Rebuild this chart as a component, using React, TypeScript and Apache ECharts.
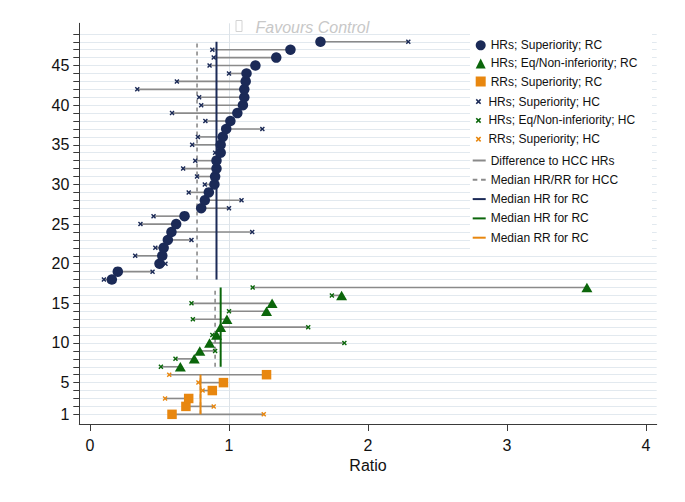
import React, { useEffect, useRef } from 'react';
import * as echarts from 'echarts';

// ---- Data (ratios; rows counted bottom to top) ----
// RRs, superiority trials: randomised control (RC) vs historical control (HC)
const rrSupRC = [0.59, 0.69, 0.71, 0.88, 0.96, 1.27];
const rrSupHC = [1.25, 0.89, 0.54, 0.81, 0.78, 0.57];
// HRs, equivalence / non-inferiority trials
const hrEqRC = [0.65, 0.75, 0.79, 0.86, 0.91, 0.94, 0.985, 1.27, 1.31, 1.81, 3.575];
const hrEqHC = [0.51, 0.615, 0.90, 1.83, 0.88, 1.57, 0.74, 1.0, 0.73, 1.74, 1.17];
// HRs, superiority trials
const hrSupRC = [
  0.157, 0.2, 0.5, 0.52, 0.53, 0.56, 0.586, 0.62, 0.68, 0.8, 0.826, 0.855, 0.895, 0.9, 0.91, 0.91,
  0.94, 0.94, 0.955, 0.98, 1.01, 1.06, 1.1, 1.11, 1.11, 1.12, 1.126, 1.19, 1.34, 1.442, 1.658,
];
const hrSupHC = [
  0.1, 0.45, 0.543, 0.325, 0.47, 0.73, 1.167, 0.363, 0.457, 1.0, 1.09, 0.71, 0.826, 0.77, 0.67, 0.757,
  0.9, 0.735, 0.776, 1.24, 0.83, 0.59, 0.8, 0.785, 0.34, 0.625, 1.0, 0.86, 0.89, 0.88, 2.29,
];

const xTicks = [0, 1, 2, 3, 4];
const yTickRows = Array.from({ length: 49 }, (_, i) => i + 1);
const yLabelRows = [1, 5, 10, 15, 20, 25, 30, 35, 40, 45];

const NAVY = '#1b2a57';
const GREEN = '#0b660b';
const ORANGE = '#e8870f';
const GREY = '#8a8a8a';
const FONT = '"Liberation Sans", Arial, Helvetica, sans-serif';

const median = (a: number[]) => {
  const s = [...a].sort((x, y) => x - y);
  const n = s.length;
  return n % 2 ? s[(n - 1) / 2] : (s[n / 2 - 1] + s[n / 2]) / 2;
};

// groups stacked bottom-to-top
const orangeStart = 1;
const greenStart = orangeStart + rrSupRC.length;
const blueStart = greenStart + hrEqRC.length;

const toPts = (vals: number[], start: number) => vals.map((v, i) => [v, start + i]);

const CROSS = 'path://M0,2L2,0L5,3L8,0L10,2L7,5L10,8L8,10L5,7L2,10L0,8L3,5Z';
const DASH = 'path://M0,0H5V2H0ZM9,0H14V2H9Z';
const SOLID = 'path://M0,0H14V2H0Z';

const labelMap: Record<string, string> = {
  medRCnavy: 'Median HR for RC',
  medRCgreen: 'Median HR for RC',
  medRCorange: 'Median RR for RC',
};

export default function App() {
  const ref = useRef<HTMLDivElement>(null);
  useEffect(() => {
    if (!ref.current) return;
    const chart = echarts.init(ref.current, null, { renderer: 'svg' });

    const diffData = [
      ...hrSupRC.map((v, i) => [hrSupHC[i], v, blueStart + i]),
      ...hrEqRC.map((v, i) => [hrEqHC[i], v, greenStart + i]),
      ...rrSupRC.map((v, i) => [rrSupHC[i], v, orangeStart + i]),
    ];
    const groups = [
      { rc: hrSupRC, hc: hrSupHC, start: blueStart },
      { rc: hrEqRC, hc: hrEqHC, start: greenStart },
      { rc: rrSupRC, hc: rrSupHC, start: orangeStart },
    ];
    const hccMedData = groups.map((g) => [median(g.hc), g.start, g.start + g.rc.length - 1]);
    const medSeries = (name: string, g: any, color: string) => ({
      type: 'custom',
      name,
      data: [[median(g.rc), g.start, g.start + g.rc.length - 1]],
      encode: { x: 0, y: [1, 2] },
      itemStyle: { color },
      z: 3,
      silent: true,
      renderItem: (_p: any, api: any) => {
        const a = api.coord([api.value(0), api.value(1)]);
        const b = api.coord([api.value(0), api.value(2)]);
        return {
          type: 'line',
          shape: { x1: a[0], y1: a[1], x2: b[0], y2: b[1] },
          style: { stroke: color, lineWidth: 2 },
        };
      },
    });

    const legendText = { fontSize: 12, color: '#111', fontFamily: FONT, lineHeight: 14 };

    chart.setOption({
      animation: false,
      backgroundColor: '#ffffff',
      textStyle: { fontFamily: FONT },
      grid: { left: 79.3, right: 28.3, top: 23.3, bottom: 78, containLabel: false, outerBoundsMode: 'none' },
      xAxis: {
        type: 'value',
        min: -0.077,
        max: 4.077,
        name: 'Ratio',
        nameLocation: 'middle',
        nameGap: 30,
        nameTextStyle: { fontSize: 16, color: '#111', fontFamily: FONT },
        axisLine: { show: true, onZero: false, lineStyle: { color: '#3a3a3a', width: 1 } },
        axisTick: { show: true, length: 7, customValues: xTicks, lineStyle: { color: '#3a3a3a' } },
        axisLabel: { customValues: xTicks, fontSize: 16, color: '#111', margin: 13, fontFamily: FONT },
        splitLine: { show: false },
      },
      yAxis: {
        type: 'value',
        min: -0.22,
        max: 50.33,
        axisLine: { show: true, onZero: false, lineStyle: { color: '#3a3a3a', width: 1 } },
        axisTick: { show: true, length: 6, customValues: yTickRows, lineStyle: { color: '#3a3a3a' } },
        axisLabel: { customValues: yLabelRows, fontSize: 16, color: '#111', margin: 10, fontFamily: FONT },
        splitLine: { show: true, lineStyle: { color: '#e2e9ef', width: 1 } },
      },
      legend: [
        {
          orient: 'vertical',
          left: 475.7,
          top: 38.3,
          padding: 0,
          itemWidth: 10,
          itemHeight: 10,
          itemGap: 4.1,
          selectedMode: false,
          textStyle: legendText,
          data: [
            { name: 'HRs; Superiority; RC', icon: 'circle' },
            { name: 'HRs; Eq/Non-inferiority; RC', icon: 'triangle' },
            { name: 'RRs; Superiority; RC', icon: 'rect' },
          ],
        },
        {
          orient: 'vertical',
          left: 475.7,
          top: 94.6,
          padding: 0,
          itemWidth: 10,
          itemHeight: 5.5,
          itemGap: 4.8,
          selectedMode: false,
          textStyle: legendText,
          data: [
            { name: 'HRs; Superiority; HC', icon: CROSS },
            { name: 'HRs; Eq/Non-inferiority; HC', icon: CROSS },
            { name: 'RRs; Superiority; HC', icon: CROSS },
          ],
        },
        {
          orient: 'vertical',
          left: 472.7,
          top: 153.5,
          padding: 0,
          itemWidth: 13,
          itemHeight: 2,
          itemGap: 5.3,
          selectedMode: false,
          symbolKeepAspect: false,
          textStyle: legendText,
          formatter: (n: string) => labelMap[n] || n,
          data: [
            { name: 'Difference to HCC HRs', icon: SOLID },
            { name: 'Median HR/RR for HCC', icon: DASH },
            { name: 'medRCnavy', icon: SOLID },
            { name: 'medRCgreen', icon: SOLID },
            { name: 'medRCorange', icon: SOLID },
          ],
        },
      ],
      graphic: [
        {
          type: 'rect',
          z: 1,
          silent: true,
          shape: { x: 470, y: 30, width: 182, height: 220 },
          style: { fill: '#ffffff' },
        },
        {
          type: 'rect',
          z: 5,
          silent: true,
          shape: { x: 236, y: 20.5, width: 6, height: 11 },
          style: { fill: 'none', stroke: '#d3d3d3', lineWidth: 1 },
        },
        {
          type: 'text',
          z: 5,
          silent: true,
          x: 255.5,
          y: 27,
          style: {
            text: 'Favours Control',
            fontSize: 16,
            fontStyle: 'italic',
            fontFamily: FONT,
            fill: '#c8c8c8',
            verticalAlign: 'middle',
          },
        },
      ],
      series: [
        {
          type: 'custom',
          name: 'Difference to HCC HRs',
          data: diffData,
          encode: { x: [0, 1], y: 2 },
          itemStyle: { color: GREY },
          z: 2,
          silent: true,
          renderItem: (_p: any, api: any) => {
            const a = api.coord([api.value(0), api.value(2)]);
            const b = api.coord([api.value(1), api.value(2)]);
            return {
              type: 'line',
              shape: { x1: a[0], y1: a[1], x2: b[0], y2: b[1] },
              style: { stroke: GREY, lineWidth: 1.6 },
            };
          },
          markLine: {
            silent: true,
            symbol: 'none',
            label: { show: false },
            lineStyle: { color: '#dde3e8', width: 1, type: 'solid' },
            data: [{ xAxis: 1 }],
            z: 1,
          },
        },
        {
          type: 'custom',
          name: 'Median HR/RR for HCC',
          data: hccMedData,
          encode: { x: 0, y: [1, 2] },
          itemStyle: { color: GREY },
          z: 3,
          silent: true,
          renderItem: (_p: any, api: any) => {
            const a = api.coord([api.value(0), api.value(1)]);
            const b = api.coord([api.value(0), api.value(2)]);
            return {
              type: 'line',
              shape: { x1: a[0], y1: a[1], x2: b[0], y2: b[1] },
              style: { stroke: GREY, lineWidth: 1.6, lineDash: [4, 4] },
            };
          },
        },
        medSeries('medRCnavy', groups[0], NAVY),
        medSeries('medRCgreen', groups[1], GREEN),
        medSeries('medRCorange', groups[2], ORANGE),
        {
          type: 'scatter',
          name: 'HRs; Superiority; HC',
          data: toPts(hrSupHC, blueStart),
          symbol: CROSS,
          symbolSize: 5,
          itemStyle: { color: NAVY, opacity: 1 },
          z: 4,
        },
        {
          type: 'scatter',
          name: 'HRs; Eq/Non-inferiority; HC',
          data: toPts(hrEqHC, greenStart),
          symbol: CROSS,
          symbolSize: 5,
          itemStyle: { color: GREEN, opacity: 1 },
          z: 4,
        },
        {
          type: 'scatter',
          name: 'RRs; Superiority; HC',
          data: toPts(rrSupHC, orangeStart),
          symbol: CROSS,
          symbolSize: 5,
          itemStyle: { color: ORANGE, opacity: 1 },
          z: 4,
        },
        {
          type: 'scatter',
          name: 'HRs; Superiority; RC',
          data: toPts(hrSupRC, blueStart),
          symbol: 'circle',
          symbolSize: 10.5,
          itemStyle: { color: NAVY, opacity: 1 },
          z: 5,
        },
        {
          type: 'scatter',
          name: 'HRs; Eq/Non-inferiority; RC',
          data: toPts(hrEqRC, greenStart),
          symbol: 'triangle',
          symbolSize: [11, 9.5],
          itemStyle: { color: GREEN, opacity: 1 },
          z: 5,
        },
        {
          type: 'scatter',
          name: 'RRs; Superiority; RC',
          data: toPts(rrSupRC, orangeStart),
          symbol: 'rect',
          symbolSize: 9.5,
          itemStyle: { color: ORANGE, opacity: 1 },
          z: 5,
        },
      ],
    });
    return () => chart.dispose();
  }, []);

  return (
    <div
      ref={ref}
      style={{ position: 'fixed', left: 0, top: 0, width: 685, height: 502, background: '#fff' }}
    />
  );
}
